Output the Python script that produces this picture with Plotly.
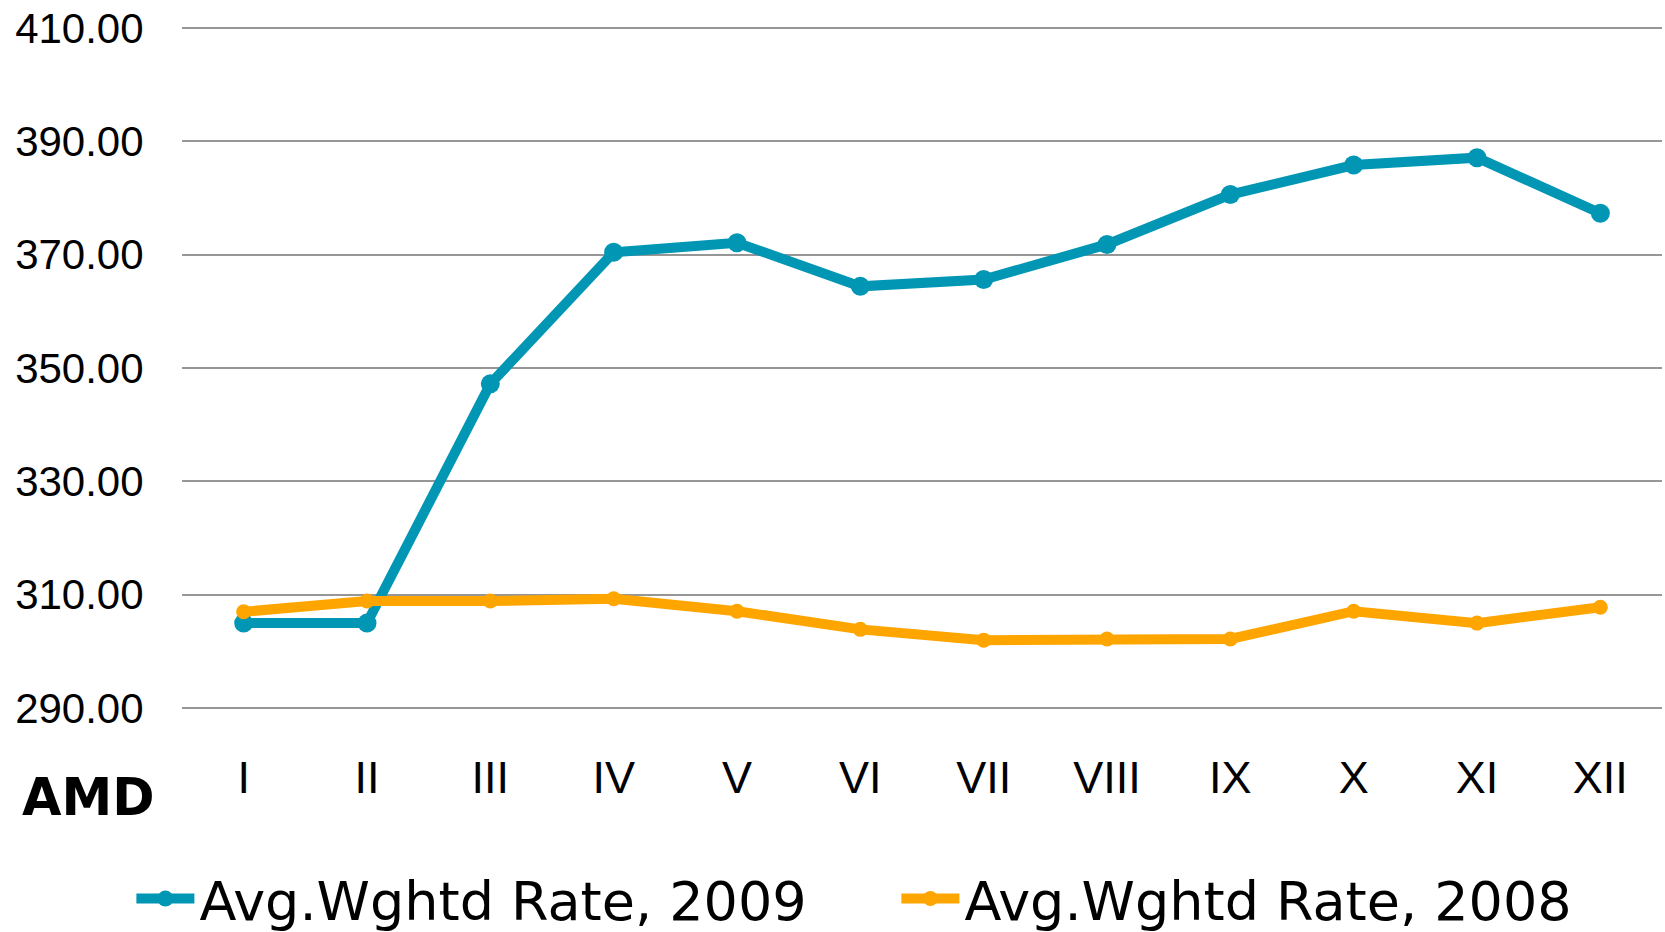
import plotly.graph_objects as go

months = ["I", "II", "III", "IV", "V", "VI", "VII", "VIII", "IX", "X", "XI", "XII"]
rate_2009 = [305.0, 305.0, 347.2, 370.4, 372.1, 364.4, 365.6, 371.8, 380.6, 385.8, 387.1, 377.3]
rate_2008 = [307.0, 308.9, 308.9, 309.3, 307.1, 303.9, 302.0, 302.2, 302.2, 307.1, 305.0, 307.8]
y_ticks = [290, 310, 330, 350, 370, 390, 410]

fig = go.Figure()
fig.add_trace(go.Scatter(
    x=months, y=rate_2009, name="Avg.Wghtd Rate, 2009",
    mode="lines+markers",
    line=dict(color="#0096B4", width=10),
    marker=dict(color="#0096B4", size=19),
))
fig.add_trace(go.Scatter(
    x=months, y=rate_2008, name="Avg.Wghtd Rate, 2008",
    mode="lines+markers",
    line=dict(color="#FFA500", width=10),
    marker=dict(color="#FFA500", size=15),
))

fig.update_layout(
    width=1665, height=932,
    paper_bgcolor="white", plot_bgcolor="white",
    margin=dict(l=182, r=3, t=25, b=221, autoexpand=False),
    font=dict(family="Liberation Sans, Arial, sans-serif", color="black"),
    xaxis=dict(
        type="category", range=[-0.5, 11.5], automargin=False,
        showgrid=False, showline=False, zeroline=False,
        ticks="outside", ticklen=27, tickcolor="rgba(0,0,0,0)",
        tickfont=dict(family="Liberation Sans, Arial, sans-serif", size=45, color="black"),
    ),
    yaxis=dict(
        range=[289.5, 410.5], tickvals=y_ticks, automargin=False,
        ticktext=[f"{v:.2f}" for v in y_ticks],
        showgrid=True, gridcolor="#969696", gridwidth=2,
        showline=False, zeroline=False,
        ticks="outside", ticklen=29, tickcolor="rgba(0,0,0,0)",
        tickfont=dict(family="Liberation Sans, Arial, sans-serif", size=42, color="black"),
    ),
    showlegend=True,
    legend=dict(
        orientation="h", x=-0.0342, xanchor="left", y=-0.274, yanchor="middle",
        font=dict(family="DejaVu Sans, Verdana, sans-serif", size=54, color="black"),
        itemwidth=58, entrywidth=692, bgcolor="rgba(0,0,0,0)",
    ),
    annotations=[dict(
        text="<b>AMD</b>", xref="paper", yref="paper",
        x=-0.1095, y=-0.1254, xanchor="left", yanchor="middle",
        showarrow=False,
        font=dict(family="DejaVu Sans, Verdana, sans-serif", size=51, color="black"),
    )],
)

fig.write_html(
    "out.html",
    config={"displayModeBar": False},
    post_script="document.body.style.margin='0';document.body.style.overflow='hidden';",
)
